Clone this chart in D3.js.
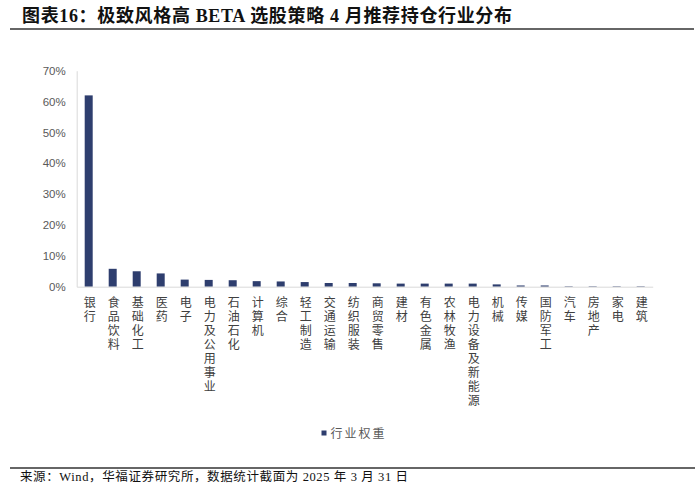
<!DOCTYPE html>
<html>
<head>
<meta charset="utf-8">
<script src="https://cdn.jsdelivr.net/npm/d3@7"></script>
<style>
  body { margin: 0; background: #fff; }
  svg { display: block; }
</style>
</head>
<body>
<svg id="chart"></svg>
<script>
const categories = ["银行", "食品饮料", "基础化工", "医药", "电子", "电力及公用事业", "石油石化", "计算机",
  "综合", "轻工制造", "交通运输", "纺织服装", "商贸零售", "建材", "有色金属", "农林牧渔",
  "电力设备及新能源", "机械", "传媒", "国防军工", "汽车", "房地产", "家电", "建筑"];
const weights = [62.0, 5.8, 5.0, 4.3, 2.3, 2.2, 2.1, 1.8, 1.7, 1.5, 1.2, 1.2, 1.1, 1.0, 1.0, 1.0,
  1.0, 0.75, 0.4, 0.4, 0.15, 0.15, 0.15, 0.15];
const yTicks = [0, 10, 20, 30, 40, 50, 60, 70];
const seriesName = "行业权重";
const title = "图表16：极致风格高 BETA 选股策略 4 月推荐持仓行业分布";
const source = "来源：Wind，华福证券研究所，数据统计截面为 2025 年 3 月 31 日";

const width = 700, height = 497;
const svg = d3.select("#chart").attr("width", width).attr("height", height);

const barColor = "#2e3e6e";
const textColor = "#595959";
const serif = "'Liberation Serif', 'Noto Sans CJK SC', serif";

// title + rule
svg.append("text")
  .attr("x", 22).attr("y", 22)
  .attr("font-family", serif)
  .attr("font-weight", "bold")
  .attr("font-size", 18)
  .attr("fill", "#111")
  .attr("textLength", 490)
  .attr("lengthAdjust", "spacing")
  .text(title);
svg.append("line")
  .attr("x1", 10).attr("x2", 694).attr("y1", 29).attr("y2", 29)
  .attr("stroke", "#333").attr("stroke-width", 1.5);

// scales
const x = d3.scaleBand()
  .domain(categories)
  .range([76.7, 652.7])
  .paddingInner(2 / 3)
  .paddingOuter(1 / 3);
const y = d3.scaleLinear().domain([0, 70]).range([286.7, 70.7]);

// y axis
const yAxis = svg.append("g")
  .attr("transform", "translate(76.7,0)")
  .call(d3.axisLeft(y).tickValues(yTicks).tickFormat(d => d + "%").tickSize(0).tickPadding(11));
yAxis.select(".domain").attr("stroke", "#d9d9d9");
yAxis.selectAll("text")
  .attr("font-family", "'Liberation Sans', Arial, sans-serif")
  .attr("font-size", 11.5)
  .attr("fill", textColor);

// bars
svg.append("g").selectAll("rect")
  .data(categories)
  .join("rect")
  .attr("x", d => x(d))
  .attr("width", x.bandwidth())
  .attr("y", (d, i) => y(weights[i]))
  .attr("height", (d, i) => y(0) - y(weights[i]))
  .attr("fill", barColor);

// x axis
const xAxis = svg.append("g")
  .attr("transform", `translate(0,${y(0)})`)
  .call(d3.axisBottom(x).tickSize(0).tickFormat(""));
xAxis.select(".domain").attr("stroke", "#d9d9d9");

// vertical labels
svg.append("g").selectAll("text")
  .data(categories)
  .join("text")
  .attr("x", d => x(d) + x.bandwidth() / 2 + 1)
  .attr("y", y(0) + 10)
  .style("writing-mode", "vertical-rl")
  .style("text-orientation", "upright")
  .attr("letter-spacing", 2)
  .attr("font-family", "'Noto Sans CJK SC', sans-serif")
  .attr("font-size", 12)
  .attr("fill", "#404040")
  .text(d => d);

// legend
const legend = svg.append("g").attr("transform", "translate(321.5,433)");
legend.append("rect")
  .attr("x", 0).attr("y", -2.5).attr("width", 5).attr("height", 5)
  .attr("fill", barColor);
legend.append("text")
  .attr("x", 9).attr("y", 4.5)
  .attr("font-family", "'Noto Sans CJK SC', sans-serif")
  .attr("font-size", 12)
  .attr("letter-spacing", 2)
  .attr("fill", textColor)
  .text(seriesName);

// source
svg.append("line")
  .attr("x1", 10).attr("x2", 695).attr("y1", 468).attr("y2", 468)
  .attr("stroke", "#333").attr("stroke-width", 1.5);
svg.append("text")
  .attr("x", 20).attr("y", 481)
  .attr("font-family", serif)
  .attr("font-size", 12.5)
  .attr("fill", "#111")
  .attr("textLength", 388)
  .attr("lengthAdjust", "spacing")
  .text(source);
</script>
</body>
</html>
